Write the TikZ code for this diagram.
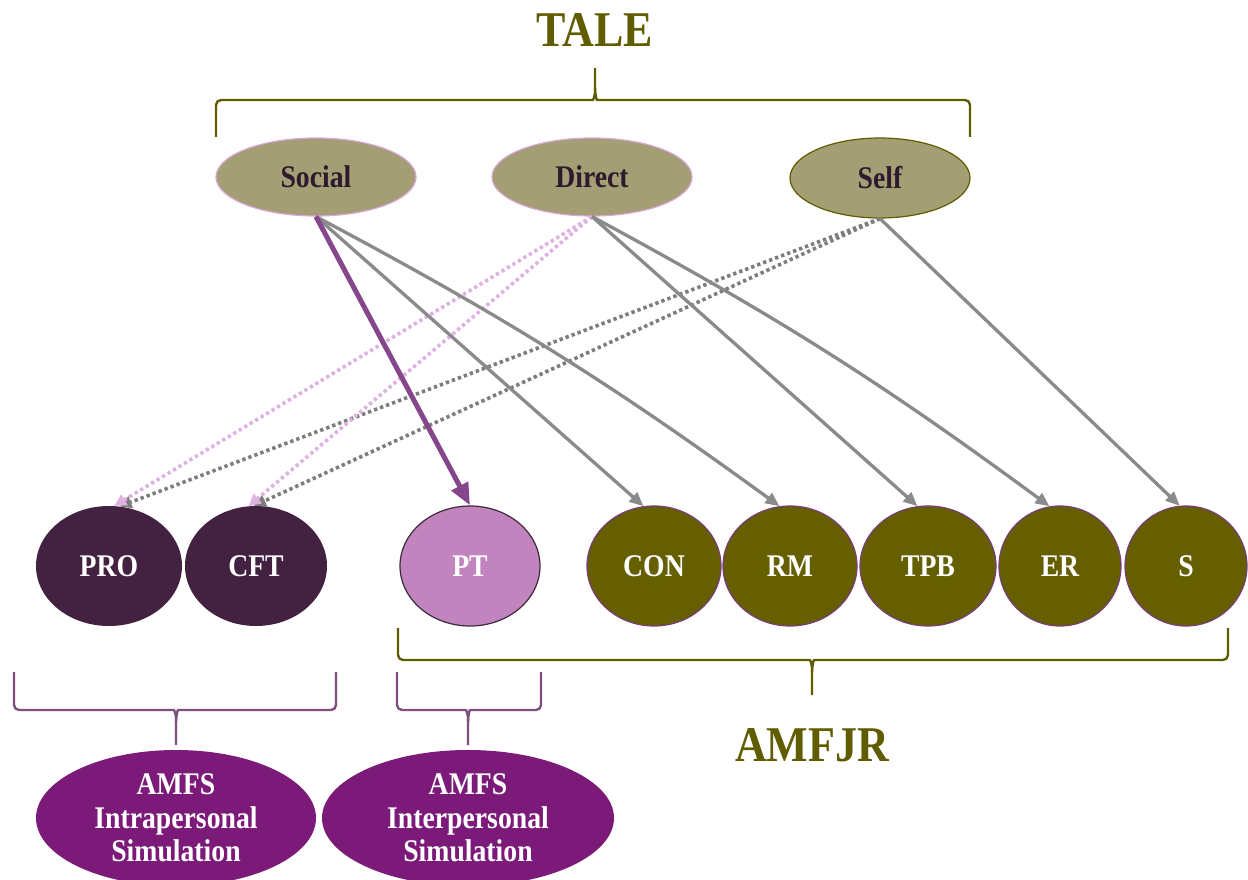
\documentclass[tikz,border=0pt]{standalone}
\usepackage{fontspec}
\setmainfont{Liberation Serif}[FakeStretch=0.88]
\usetikzlibrary{shapes.geometric,arrows.meta}

\definecolor{olive}{RGB}{96,92,0}
\definecolor{khaki}{RGB}{163,158,115}
\definecolor{plumtext}{RGB}{46,26,46}
\definecolor{pinkline}{RGB}{217,166,217}
\definecolor{plum}{RGB}{67,33,64}
\definecolor{orchid}{RGB}{193,132,190}
\definecolor{orchidline}{RGB}{60,42,60}
\definecolor{olivefill}{RGB}{101,95,0}
\definecolor{olivering}{RGB}{122,60,122}
\definecolor{grape}{RGB}{123,26,120}
\definecolor{bracepurple}{RGB}{127,79,128}
\definecolor{arrowpurple}{RGB}{134,70,140}
\definecolor{arrowgray}{RGB}{138,138,138}
\definecolor{dotgray}{RGB}{125,125,125}
\definecolor{dotpink}{RGB}{222,178,226}

\tikzset{
  labelfont/.style={font=\fontsize{31.5}{33.5}\selectfont\bfseries},
  topnode/.style={ellipse, fill=khaki, draw=pinkline, line width=1.2pt,
    minimum width=200pt, minimum height=78pt, inner sep=0pt,
    labelfont, text=plumtext},
  ballnode/.style={ellipse, minimum height=120pt, inner sep=0pt,
    labelfont, text=white},
  plumball/.style={ballnode, fill=plum},
  oliveball/.style={ballnode, fill=olivefill, draw=olivering, line width=1.2pt},
  simnode/.style={ellipse, fill=grape, minimum height=136pt, inner sep=0pt,
    labelfont, text=white, align=center},
  titletext/.style={font=\fontsize{50}{55}\selectfont\bfseries, text=olive},
  grayarrow/.style={draw=arrowgray, line width=3.3pt,
    -{Triangle[length=14pt,width=12pt]}},
  boldarrow/.style={draw=arrowpurple, line width=5pt,
    -{Triangle[length=22pt,width=18pt]}},
  dotarrow/.style={line width=3.6pt, dash pattern=on 3.4pt off 3pt,
    -{Triangle[length=12pt,width=12pt]}},
  bracket/.style={line width=2.4pt, line join=round, rounded corners=5pt},
}

\begin{document}
\begin{tikzpicture}[x=1pt,y=-1pt]
\useasboundingbox (0,0) rectangle (1248,880);

% group titles
\node[titletext] (tale) at (595,30) {TALE};
\node[titletext] (amfjr) at (812,745) {AMFJR};

% learning sources
\node[topnode] (social) at (316,177) {Social};
\node[topnode] (direct) at (592,177) {Direct};
\node[topnode, draw=olive, minimum width=180pt, minimum height=80pt] (self) at (880,178) {Self};

% components
\node[plumball, minimum width=146pt] (pro) at (109,566) {PRO};
\node[plumball, minimum width=142pt] (cft) at (256,566) {CFT};
\node[ballnode, fill=orchid, draw=orchidline, line width=1.2pt, minimum width=140pt] (pt) at (470,566) {PT};
\node[oliveball, minimum width=134pt] (con) at (654,566) {CON};
\node[oliveball, minimum width=134pt] (rm) at (790,566) {RM};
\node[oliveball, minimum width=136pt] (tpb) at (928,566) {TPB};
\node[oliveball, minimum width=122pt] (er) at (1060,566) {ER};
\node[oliveball, minimum width=122pt] (s) at (1186,566) {S};

% simulation groups
\node[simnode, minimum width=280pt] (intra) at (176,818) {AMFS\\Intrapersonal\\Simulation};
\node[simnode, minimum width=292pt] (inter) at (468,818) {AMFS\\Interpersonal\\Simulation};

% braces
\draw[bracket, olive] (216,137) -- (216,100) -- (588,100) to[out=0,in=-90] (595,88) -- (595,68);
\draw[bracket, olive] (970,137) -- (970,100) -- (602,100) to[out=180,in=-90] (595,88);
\draw[bracket, olive] (398,628) -- (398,660) -- (805,660) to[out=0,in=90] (812,672) -- (812,695);
\draw[bracket, olive] (1228,628) -- (1228,660) -- (819,660) to[out=180,in=90] (812,672);
\draw[bracket, bracepurple] (14,672) -- (14,710) -- (169,710) to[out=0,in=90] (176,722) -- (176,745);
\draw[bracket, bracepurple] (336,672) -- (336,710) -- (183,710) to[out=180,in=90] (176,722);
\draw[bracket, bracepurple] (397,672) -- (397,710) -- (461,710) to[out=0,in=90] (468,722) -- (468,745);
\draw[bracket, bracepurple] (541,672) -- (541,710) -- (475,710) to[out=180,in=90] (468,722);

% dotted links
\draw[dotarrow, dotgray] (self.south) -- (pro.80);
\draw[dotarrow, dotgray] (self.south) -- (cft.92);
\draw[dotarrow, dotpink] (direct.south) -- (pro.85);
\draw[dotarrow, dotpink] (direct.south) -- (cft.97);

% solid links
\draw[grayarrow] (social.south) -- (con.100);
\draw[grayarrow] (social.south) to[bend left=4] (rm.100);
\draw[grayarrow] (direct.south) -- (tpb.100);
\draw[grayarrow] (direct.south) to[bend left=4] (er.100);
\draw[grayarrow] (self.south) -- (s.96);
\draw[boldarrow] (social.south) -- (pt.north);
\end{tikzpicture}
\end{document}
